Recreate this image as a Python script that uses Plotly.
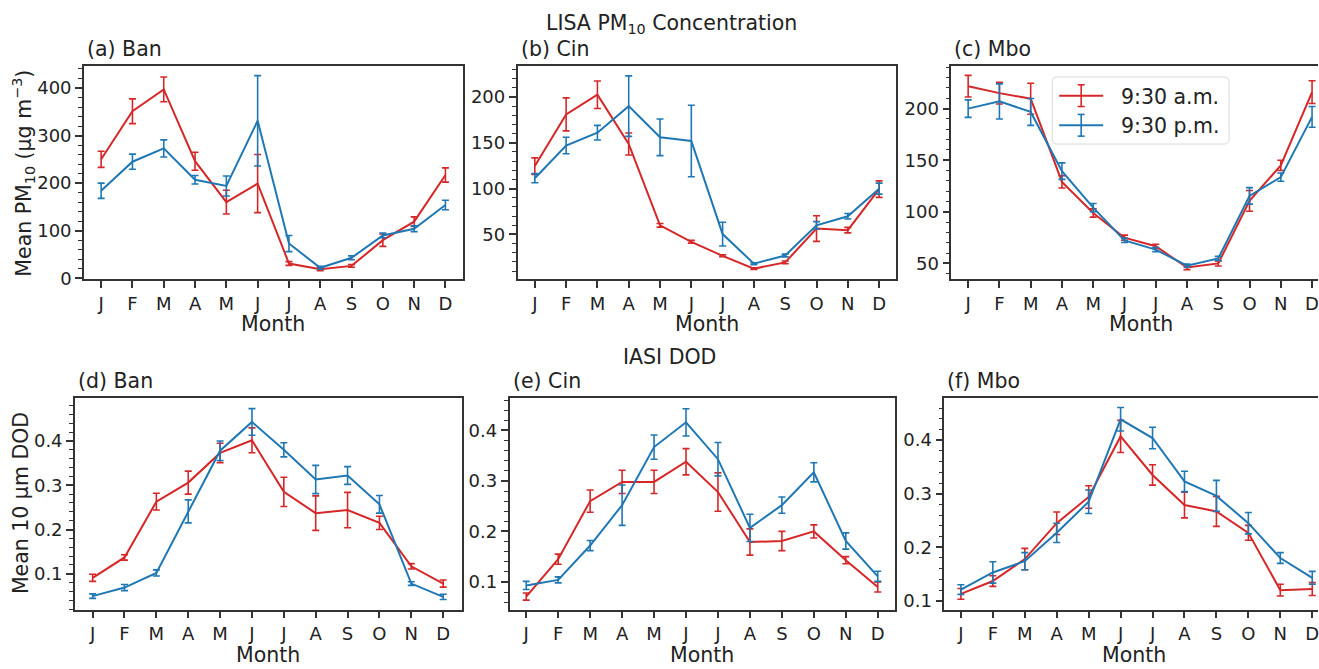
import plotly.graph_objects as go

W, H = 1319, 669

# ---------------- data ----------------
MONTHS = ["J", "F", "M", "A", "M", "J", "J", "A", "S", "O", "N", "D"]
MONTH_IDX = list(range(12))
SERIES_NAMES = ["9:30 a.m.", "9:30 p.m."]

# (a) Ban, LISA PM10
ban_pm_am = [250, 351, 397, 246, 160, 199, 31, 19, 26, 80, 119, 217]
ban_pm_am_err = [17, 26, 26, 19, 25, 61, 4, 3, 3, 13, 10, 15]
ban_pm_pm = [184, 245, 273, 207, 194, 331, 73, 22, 43, 90, 104, 154]
ban_pm_pm_err = [16, 16, 18, 9, 21, 95, 17, 3, 4, 5, 6, 10]

# (b) Cin, LISA PM10
cin_pm_am = [124.6, 181, 202.5, 148.7, 60, 42, 26.7, 12.7, 19.5, 56.5, 54.7, 99.5]
cin_pm_am_err = [9, 18, 15, 12, 2, 1.5, 1, 1, 1.5, 14, 3, 9]
cin_pm_pm = [111.4, 147, 161, 190, 156, 152, 50.4, 18.1, 27, 60, 69.8, 100]
cin_pm_pm_err = [5, 9, 8, 33, 20, 39, 13, 1, 1.5, 4, 3, 6]

# (c) Mbo, LISA PM10
mbo_pm_am = [221.7, 215, 209.6, 129, 98.8, 74.9, 66.6, 46, 50, 110.6, 145, 216]
mbo_pm_am_err = [10.5, 10.5, 15, 6, 4, 2.5, 2, 2, 2.5, 10, 5, 11]
mbo_pm_pm = [200, 207, 196.8, 139.4, 104, 72.3, 63.4, 47.8, 54.8, 115.4, 133.6, 192]
mbo_pm_pm_err = [8.5, 17, 13, 8, 4, 2, 2, 1.5, 2, 8, 4, 10]

# (d) Ban, IASI DOD
ban_dod_am = [0.091, 0.137, 0.263, 0.306, 0.373, 0.4015, 0.285, 0.237, 0.244, 0.215, 0.117, 0.078]
ban_dod_am_err = [0.008, 0.006, 0.019, 0.026, 0.022, 0.028, 0.033, 0.039, 0.04, 0.015, 0.006, 0.008]
ban_dod_pm = [0.0496, 0.069, 0.102, 0.241, 0.378, 0.443, 0.38, 0.313, 0.322, 0.257, 0.078, 0.048]
ban_dod_pm_err = [0.005, 0.007, 0.007, 0.026, 0.022, 0.03, 0.016, 0.032, 0.02, 0.02, 0.004, 0.006]

# (e) Cin, IASI DOD
cin_dod_am = [0.071, 0.145, 0.26, 0.298, 0.298, 0.338, 0.278, 0.179, 0.181, 0.2, 0.143, 0.09]
cin_dod_am_err = [0.007, 0.01, 0.022, 0.023, 0.023, 0.026, 0.038, 0.026, 0.019, 0.013, 0.007, 0.01]
cin_dod_pm = [0.093, 0.104, 0.172, 0.252, 0.367, 0.416, 0.343, 0.207, 0.252, 0.317, 0.181, 0.111]
cin_dod_pm_err = [0.008, 0.006, 0.01, 0.04, 0.024, 0.027, 0.033, 0.027, 0.016, 0.019, 0.016, 0.01]

# (f) Mbo, IASI DOD
mbo_dod_am = [0.113, 0.137, 0.178, 0.245, 0.294, 0.407, 0.335, 0.279, 0.267, 0.227, 0.12, 0.122]
mbo_dod_am_err = [0.01, 0.01, 0.02, 0.021, 0.021, 0.03, 0.019, 0.024, 0.028, 0.014, 0.011, 0.012]
mbo_dod_pm = [0.121, 0.153, 0.174, 0.227, 0.285, 0.439, 0.404, 0.323, 0.296, 0.245, 0.18, 0.143]
mbo_dod_pm_err = [0.009, 0.02, 0.016, 0.018, 0.022, 0.022, 0.02, 0.019, 0.029, 0.02, 0.01, 0.012]

PANEL_TITLES = ["(a) Ban", "(b) Cin", "(c) Mbo", "(d) Ban", "(e) Cin", "(f) Mbo"]
PANEL_DATA = [
    (ban_pm_am, ban_pm_am_err, ban_pm_pm, ban_pm_pm_err),
    (cin_pm_am, cin_pm_am_err, cin_pm_pm, cin_pm_pm_err),
    (mbo_pm_am, mbo_pm_am_err, mbo_pm_pm, mbo_pm_pm_err),
    (ban_dod_am, ban_dod_am_err, ban_dod_pm, ban_dod_pm_err),
    (cin_dod_am, cin_dod_am_err, cin_dod_pm, cin_dod_pm_err),
    (mbo_dod_am, mbo_dod_am_err, mbo_dod_pm, mbo_dod_pm_err),
]

# ---------------- styling / layout ----------------
RED = "#d62728"
BLUE = "#1f77b4"
FRAME = "#333333"
TEXT = "#222222"
FONT = "DejaVu Sans"
FS = 20.5      # titles, axis labels, legend
TFS = 18       # tick labels

# pixel boxes: left, right, top, bottom ; x range ; y range ; y dtick ; minor dtick ; tick format ; right border ; x-title offset
BOXES = [
    (84, 463, 67, 283, (-0.55, 11.55), (-2, 446), 100, 20, "d", True, 45),
    (518, 897, 67, 283, (-0.55, 11.55), (1.2, 233.7), 50, 10, "d", True, 45),
    (952, 1319, 67, 283, (-0.54, 11.19), (34.7, 241.2), 50, 10, "d", False, 45),
    (75, 462, 403, 618, (-0.555, 11.58), (0.019, 0.498), 0.1, 0.02, ".1f", True, 46),
    (510, 896, 403, 618, (-0.52, 11.55), (0.045, 0.465), 0.1, 0.02, ".1f", True, 46),
    (945, 1319, 403, 618, (-0.52, 11.18), (0.0835, 0.4795), 0.1, 0.02, ".1f", False, 46),
]


def px(x):
    return x / W


def py(y):
    return 1 - y / H


fig = go.Figure()
layout = dict(
    width=W, height=H, autosize=False,
    margin=dict(l=0, r=0, t=0, b=0, pad=0),
    paper_bgcolor="white", plot_bgcolor="white",
    showlegend=False,
    font=dict(family=FONT, size=FS, color=TEXT),
)

annotations = []
shapes = []

for i, (box, title, data) in enumerate(zip(BOXES, PANEL_TITLES, PANEL_DATA)):
    l, r, t, b, xr, yr, dt, mdt, fmt, right_border, xoff = box
    k = "" if i == 0 else str(i + 1)
    am, am_err, pm, pm_err = data
    for vals, errs, col, name in ((am, am_err, RED, SERIES_NAMES[0]),
                                  (pm, pm_err, BLUE, SERIES_NAMES[1])):
        fig.add_trace(go.Scatter(
            x=MONTH_IDX, y=vals, mode="lines", name=name,
            line=dict(color=col, width=2),
            error_y=dict(type="data", array=errs, visible=True,
                         color=col, thickness=1.6, width=3.5),
            xaxis="x" + k, yaxis="y" + k, cliponaxis=False,
        ))
    layout["xaxis" + k] = dict(
        domain=[px(l), px(r)], anchor="y" + k, range=list(xr),
        tickmode="array", tickvals=MONTH_IDX, ticktext=MONTHS,
        ticks="outside", ticklen=7, tickwidth=1.5, tickcolor=FRAME,
        ticklabeloverflow="allow",
        showline=True, linecolor=FRAME, linewidth=1.5, mirror=True,
        showgrid=False, zeroline=False,
        tickfont=dict(family=FONT, size=TFS, color=TEXT),
    )
    layout["yaxis" + k] = dict(
        domain=[py(b), py(t)], anchor="x" + k, range=list(yr),
        tick0=0, dtick=dt, tickformat=fmt,
        ticks="outside", ticklen=7, tickwidth=1.5, tickcolor=FRAME,
        minor=dict(dtick=mdt, ticks="outside", ticklen=4, tickwidth=1.2,
                   tickcolor=FRAME, showgrid=False),
        showline=True, linecolor=FRAME, linewidth=1.5, mirror=right_border,
        showgrid=False, zeroline=False,
        tickfont=dict(family=FONT, size=TFS, color=TEXT),
    )
    # panel title
    annotations.append(dict(
        text=title, x=px(l + 1), y=py(t - 17), xref="paper", yref="paper",
        xanchor="left", yanchor="middle", showarrow=False,
        font=dict(family=FONT, size=FS, color=TEXT)))
    # x axis title
    cx = (l + r) / 2 if right_border else (l + (l + 379)) / 2
    annotations.append(dict(
        text="Month", x=px(cx), y=py(b + xoff), xref="paper", yref="paper",
        xanchor="center", yanchor="middle", showarrow=False,
        font=dict(family=FONT, size=FS, color=TEXT)))

# y axis titles
annotations.append(dict(
    text="Mean PM<sub>10</sub> (μg m<sup>−3</sup>)", x=px(24), y=py(175),
    xref="paper", yref="paper", xanchor="center", yanchor="middle",
    textangle=-90, showarrow=False, font=dict(family=FONT, size=FS, color=TEXT)))
annotations.append(dict(
    text="Mean 10 μm DOD", x=px(21), y=py(510),
    xref="paper", yref="paper", xanchor="center", yanchor="middle",
    textangle=-90, showarrow=False, font=dict(family=FONT, size=FS, color=TEXT)))

# row titles
annotations.append(dict(
    text="LISA PM<sub>10</sub> Concentration", x=px(672), y=py(24),
    xref="paper", yref="paper", xanchor="center", yanchor="middle",
    showarrow=False, font=dict(family=FONT, size=FS, color=TEXT)))
annotations.append(dict(
    text="IASI DOD", x=px(670), y=py(362),
    xref="paper", yref="paper", xanchor="center", yanchor="middle",
    showarrow=False, font=dict(family=FONT, size=FS, color=TEXT)))

# ---------------- custom legend (panel c) ----------------
LX0, LX1, LY0, LY1, RAD = 1053, 1230, 78, 146, 5
path = (f"M {px(LX0 + RAD)},{py(LY0)} L {px(LX1 - RAD)},{py(LY0)} "
        f"Q {px(LX1)},{py(LY0)} {px(LX1)},{py(LY0 + RAD)} "
        f"L {px(LX1)},{py(LY1 - RAD)} Q {px(LX1)},{py(LY1)} {px(LX1 - RAD)},{py(LY1)} "
        f"L {px(LX0 + RAD)},{py(LY1)} Q {px(LX0)},{py(LY1)} {px(LX0)},{py(LY1 - RAD)} "
        f"L {px(LX0)},{py(LY0 + RAD)} Q {px(LX0)},{py(LY0)} {px(LX0 + RAD)},{py(LY0)} Z")
shapes.append(dict(type="path", path=path, xref="paper", yref="paper",
                   line=dict(color="#d9d9d9", width=1),
                   fillcolor="rgba(255,255,255,0.8)", layer="above"))
for ly, col, name in ((97, RED, SERIES_NAMES[0]), (127, BLUE, SERIES_NAMES[1])):
    shapes.append(dict(type="line", xref="paper", yref="paper",
                       x0=px(1060), x1=px(1104), y0=py(ly), y1=py(ly),
                       line=dict(color=col, width=2), layer="above"))
    shapes.append(dict(type="line", xref="paper", yref="paper",
                       x0=px(1082), x1=px(1082), y0=py(ly - 11), y1=py(ly + 11),
                       line=dict(color=col, width=1.6), layer="above"))
    for cy in (ly - 11, ly + 11):
        shapes.append(dict(type="line", xref="paper", yref="paper",
                           x0=px(1078.5), x1=px(1085.5), y0=py(cy), y1=py(cy),
                           line=dict(color=col, width=1.6), layer="above"))
    annotations.append(dict(
        text=name, x=px(1120), y=py(ly + 1), xref="paper", yref="paper",
        xanchor="left", yanchor="middle", showarrow=False,
        font=dict(family=FONT, size=FS, color=TEXT)))

layout["annotations"] = annotations
layout["shapes"] = shapes
fig.update_layout(**layout)

fig.write_html("out.html",
               config={"displayModeBar": False},
               post_script="document.body.style.margin='0px';"
                           "document.body.style.overflow='hidden';")
